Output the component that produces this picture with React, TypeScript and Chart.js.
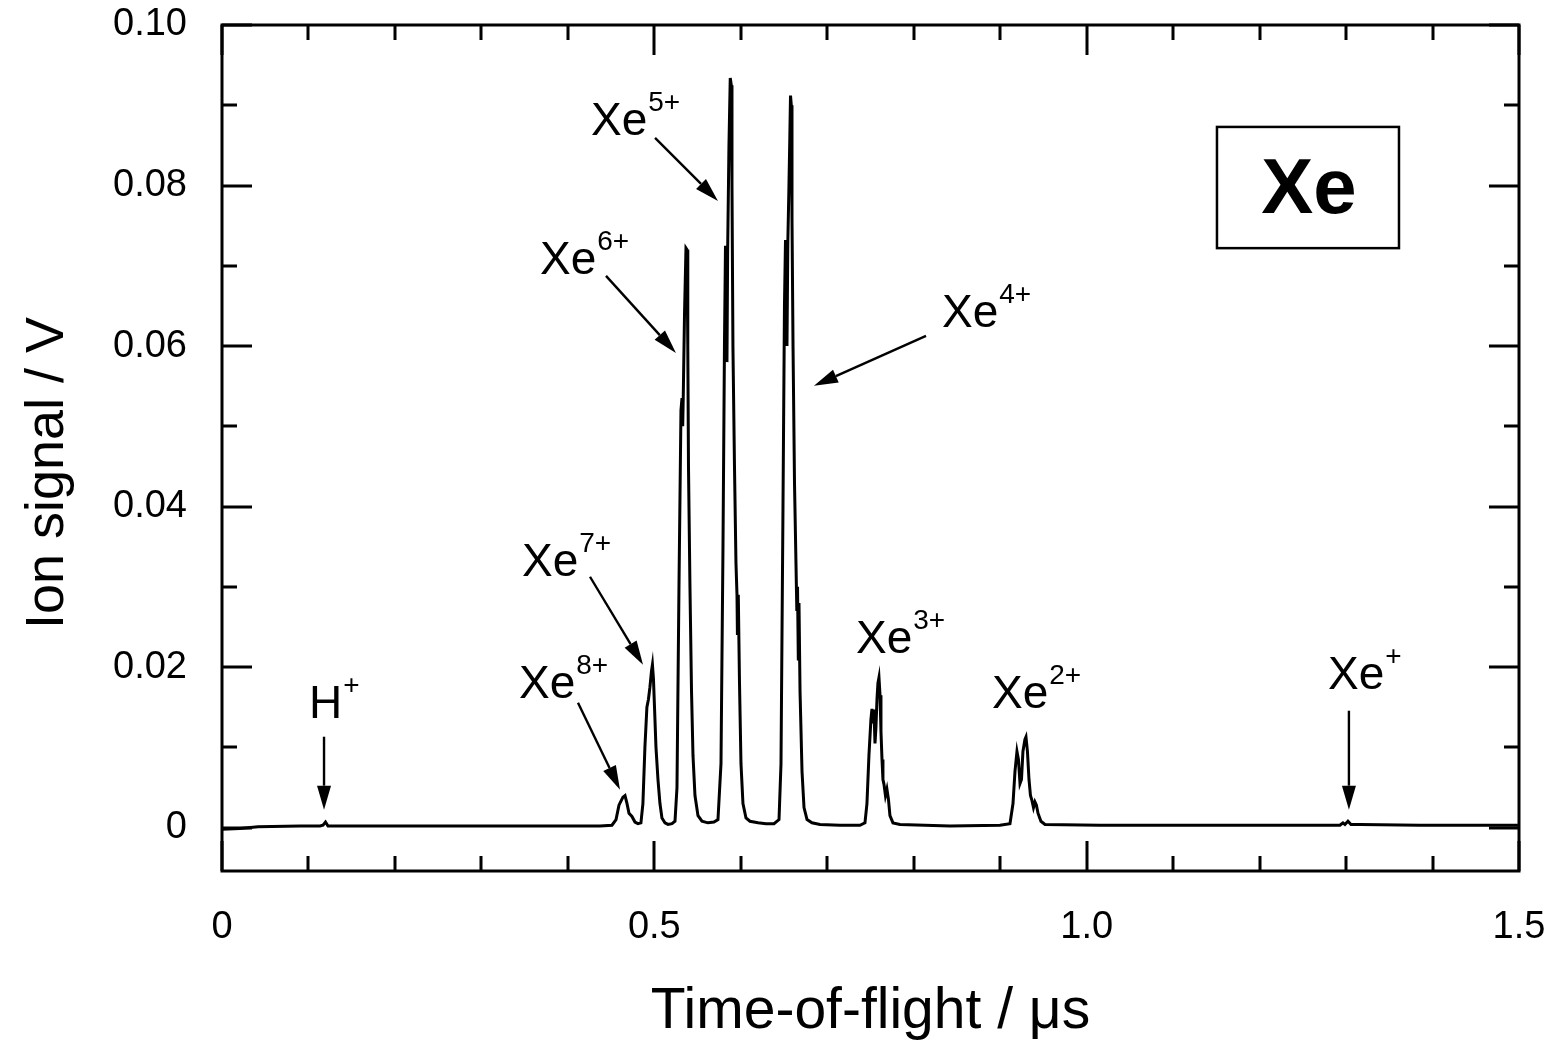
import React, { useEffect, useRef } from "react";
import { Chart, registerables } from "chart.js";

Chart.register(...registerables);

// Time-of-flight (µs) and ion signal (V)
const tofTimes = [
  0, 0.0208, 0.0416, 0.0902, 0.1133, 0.1168, 0.1197, 0.1226, 0.1365, 0.2059, 0.3215,
  0.4371, 0.4510, 0.4557, 0.4591, 0.4614, 0.4637, 0.4661, 0.4684, 0.4707, 0.4741, 0.4776,
  0.4810, 0.4845, 0.4868, 0.4891, 0.4914, 0.4932, 0.4949, 0.4967, 0.4978, 0.4990, 0.5002,
  0.5019, 0.5042, 0.5065, 0.5088, 0.5123, 0.5158, 0.5204, 0.5239, 0.5262, 0.5285, 0.5308,
  0.5320, 0.5328, 0.5335, 0.5349, 0.5366, 0.5378, 0.5387, 0.5395, 0.5412, 0.5430, 0.5447,
  0.5470, 0.5505, 0.5551, 0.5620, 0.5690, 0.5736, 0.5771, 0.5794, 0.5811, 0.5823, 0.5832,
  0.5840, 0.5848, 0.5863, 0.5878, 0.5890, 0.5898, 0.5909, 0.5927, 0.5944, 0.5956, 0.5961,
  0.5971, 0.5985, 0.6002, 0.6025, 0.6060, 0.6106, 0.6199, 0.6291, 0.6384, 0.6442, 0.6465,
  0.6488, 0.6505, 0.6517, 0.6526, 0.6534, 0.6544, 0.6557, 0.6567, 0.6575, 0.6584, 0.6592,
  0.6604, 0.6621, 0.6638, 0.6648, 0.6656, 0.6665, 0.6673, 0.6685, 0.6708, 0.6731, 0.6766,
  0.6823, 0.6916, 0.7147, 0.7378, 0.7436, 0.7459, 0.7482, 0.7505, 0.7517, 0.7528, 0.7540,
  0.7552, 0.7563, 0.7575, 0.7586, 0.7598, 0.7610, 0.7621, 0.7633, 0.7644, 0.7656, 0.7673,
  0.7690, 0.7708, 0.7725, 0.7760, 0.7841, 0.8419, 0.8997, 0.9113, 0.9148, 0.9171, 0.9194,
  0.9211, 0.9229, 0.9246, 0.9263, 0.9286, 0.9298, 0.9315, 0.9333, 0.9350, 0.9367, 0.9385,
  0.9402, 0.9419, 0.9437, 0.9471, 0.9518, 1.0154, 1.1310, 1.2467, 1.2929, 1.2964, 1.2987,
  1.3022, 1.3057, 1.3161, 1.3854, 1.4988,
];
const ionSignal = [
  -0.0002, -0.0001, 0.0001, 0.0002, 0.0002, 0.0003, 0.0007, 0.0002, 0.0002, 0.0002, 0.0002,
  0.0002, 0.0003, 0.0010, 0.0028, 0.0033, 0.0038, 0.0040, 0.0030, 0.0018, 0.0014, 0.0007,
  0.0005, 0.0006, 0.0030, 0.0100, 0.0150, 0.0160, 0.0175, 0.0195, 0.0203, 0.0185, 0.0150,
  0.0100, 0.0060, 0.0030, 0.0012, 0.0006, 0.0004, 0.0005, 0.0008, 0.0050, 0.0300, 0.0520,
  0.0535, 0.0500, 0.0540, 0.0640, 0.0722, 0.0720, 0.0600, 0.0450, 0.0300, 0.0170, 0.0090,
  0.0040, 0.0015, 0.0008, 0.0006, 0.0007, 0.0010, 0.0080, 0.0350, 0.0600, 0.0725, 0.0700,
  0.0580, 0.0720, 0.0850, 0.0934, 0.0925, 0.0800, 0.0600, 0.0450, 0.0330, 0.0290, 0.0240,
  0.0290, 0.0180, 0.0080, 0.0030, 0.0012, 0.0008, 0.0006, 0.0005, 0.0005, 0.0010, 0.0080,
  0.0400, 0.0650, 0.0732, 0.0700, 0.0600, 0.0730, 0.0800, 0.0860, 0.0912, 0.0900, 0.0760,
  0.0600, 0.0430, 0.0330, 0.0270, 0.0300, 0.0210, 0.0280, 0.0170, 0.0070, 0.0025, 0.0010,
  0.0006, 0.0004, 0.0003, 0.0003, 0.0006, 0.0030, 0.0090, 0.0135, 0.0148, 0.0130, 0.0147,
  0.0105, 0.0125, 0.0160, 0.0180, 0.0187, 0.0165, 0.0120, 0.0085, 0.0060, 0.0054, 0.0040,
  0.0048, 0.0035, 0.0015, 0.0006, 0.0004, 0.0002, 0.0003, 0.0005, 0.0030, 0.0070, 0.0095,
  0.0085, 0.0055, 0.0060, 0.0095, 0.0110, 0.0113, 0.0095, 0.0060, 0.0040, 0.0034, 0.0025,
  0.0032, 0.0028, 0.0018, 0.0008, 0.0004, 0.0003, 0.0003, 0.0003, 0.0003, 0.0006, 0.0004,
  0.0008, 0.0004, 0.0004, 0.0003, 0.0003,
];

const xTickValues = [0, 0.5, 1.0, 1.5];
const xTickLabels = ["0", "0.5", "1.0", "1.5"];
const yTickValues = [0, 0.02, 0.04, 0.06, 0.08, 0.1];
const yTickLabels = ["0", "0.02", "0.04", "0.06", "0.08", "0.10"];
const xMinorTicks = [0.1, 0.2, 0.3, 0.4, 0.6, 0.7, 0.8, 0.9, 1.1, 1.2, 1.3, 1.4];
const yMinorTicks = [0.01, 0.03, 0.05, 0.07, 0.09];

// Peak labels: base text, superscript, time and signal of the text's left baseline
const labelBases = ["H", "Xe", "Xe", "Xe", "Xe", "Xe", "Xe", "Xe", "Xe"];
const labelSups = ["+", "8+", "7+", "6+", "5+", "4+", "3+", "2+", "+"];
const labelTimes = [0.1006, 0.3435, 0.3469, 0.3678, 0.4267, 0.8327, 0.7332, 0.8905, 1.2791];
const labelSignals = [0.0136, 0.0161, 0.0314, 0.069, 0.0863, 0.0624, 0.0218, 0.0149, 0.0173];

// Arrows: tail (time, signal) -> tip (time, signal)
const arrowTailT = [0.118, 0.4117, 0.4256, 0.4441, 0.5008, 0.8142, 1.3033];
const arrowTailV = [0.01133, 0.01557, 0.03126, 0.06874, 0.08593, 0.06127, 0.01457];
const arrowTipT = [0.118, 0.4603, 0.4869, 0.525, 0.5736, 0.6846, 1.3033];
const arrowTipV = [0.00224, 0.00473, 0.0203, 0.05915, 0.07808, 0.05504, 0.00224];

const FONT = "'Liberation Sans', Arial, Helvetica, sans-serif";

export default function App() {
  const canvasRef = useRef<HTMLCanvasElement | null>(null);

  useEffect(() => {
    const canvas = canvasRef.current;
    if (!canvas) return;

    const decor = {
      id: "decor",
      afterDraw(chart: any) {
        const ctx = chart.ctx as CanvasRenderingContext2D;
        const { left, right, top, bottom } = chart.chartArea;
        const xs = chart.scales.x;
        const ys = chart.scales.y;
        ctx.save();
        ctx.strokeStyle = "#000";
        ctx.fillStyle = "#000";

        // ticks (inward, all four sides)
        ctx.lineWidth = 3;
        ctx.lineCap = "butt";
        const major = 30;
        const minor = 15;
        const drawX = (v: number, len: number) => {
          const px = Math.round(xs.getPixelForValue(v));
          ctx.beginPath();
          ctx.moveTo(px, bottom);
          ctx.lineTo(px, bottom - len);
          ctx.moveTo(px, top);
          ctx.lineTo(px, top + len);
          ctx.stroke();
        };
        const drawY = (v: number, len: number) => {
          const py = Math.round(ys.getPixelForValue(v));
          ctx.beginPath();
          ctx.moveTo(left, py);
          ctx.lineTo(left + len, py);
          ctx.moveTo(right, py);
          ctx.lineTo(right - len, py);
          ctx.stroke();
        };
        xTickValues.forEach((v) => drawX(v, major));
        xMinorTicks.forEach((v) => drawX(v, minor));
        yTickValues.forEach((v) => drawY(v, major));
        yMinorTicks.forEach((v) => drawY(v, minor));

        // frame
        ctx.lineWidth = 3;
        ctx.strokeRect(left, top, right - left, bottom - top);

        // arrows
        for (let i = 0; i < arrowTailT.length; i++) {
          const x0 = xs.getPixelForValue(arrowTailT[i]);
          const y0 = ys.getPixelForValue(arrowTailV[i]);
          const x1 = xs.getPixelForValue(arrowTipT[i]);
          const y1 = ys.getPixelForValue(arrowTipV[i]);
          const ang = Math.atan2(y1 - y0, x1 - x0);
          const hl = 24;
          const hw = 7;
          const bx = x1 - hl * Math.cos(ang);
          const by = y1 - hl * Math.sin(ang);
          ctx.lineWidth = 2.4;
          ctx.beginPath();
          ctx.moveTo(x0, y0);
          ctx.lineTo(bx, by);
          ctx.stroke();
          ctx.beginPath();
          ctx.moveTo(x1, y1);
          ctx.lineTo(bx + hw * Math.sin(ang), by - hw * Math.cos(ang));
          ctx.lineTo(bx - hw * Math.sin(ang), by + hw * Math.cos(ang));
          ctx.closePath();
          ctx.fill();
        }

        // peak labels
        ctx.textBaseline = "alphabetic";
        ctx.textAlign = "left";
        for (let i = 0; i < labelBases.length; i++) {
          const x = xs.getPixelForValue(labelTimes[i]);
          const y = ys.getPixelForValue(labelSignals[i]);
          ctx.font = `46px ${FONT}`;
          ctx.fillText(labelBases[i], x, y);
          const w = ctx.measureText(labelBases[i]).width;
          ctx.font = `28px ${FONT}`;
          ctx.fillText(labelSups[i], x + w + 1, y - 24);
        }

        // "Xe" box
        const bxL = xs.getPixelForValue(1.1507);
        const bxR = xs.getPixelForValue(1.3612);
        const byT = ys.getPixelForValue(0.0873);
        const byB = ys.getPixelForValue(0.0722);
        ctx.lineWidth = 2.5;
        ctx.strokeRect(bxL, byT, bxR - bxL, byB - byT);
        ctx.font = `bold 78px ${FONT}`;
        ctx.textAlign = "center";
        ctx.textBaseline = "middle";
        ctx.fillText("Xe", (bxL + bxR) / 2 + 1, (byT + byB) / 2 + 4);

        // axis titles
        ctx.font = `57px ${FONT}`;
        ctx.textAlign = "center";
        ctx.textBaseline = "alphabetic";
        ctx.fillText("Time-of-flight / \u03bcs", (left + right) / 2, 1028);
        ctx.font = `54px ${FONT}`;
        ctx.save();
        ctx.translate(63, 473);
        ctx.rotate(-Math.PI / 2);
        ctx.fillText("Ion signal / V", 0, 0);
        ctx.restore();

        ctx.restore();
      },
    };

    const chart = new Chart(canvas, {
      type: "line",
      data: {
        datasets: [
          {
            data: tofTimes.map((t, i) => ({ x: t, y: ionSignal[i] })),
            borderColor: "#000",
            borderWidth: 3,
            pointRadius: 0,
            tension: 0,
            fill: false,
          },
        ],
      },
      options: {
        animation: false,
        responsive: false,
        devicePixelRatio: 1,
        layout: { padding: { top: 25, right: 37, left: 0, bottom: 0 } },
        plugins: { legend: { display: false }, tooltip: { enabled: false } },
        scales: {
          x: {
            type: "linear",
            min: 0,
            max: 1.5,
            grid: { display: false, drawTicks: false },
            border: { display: false },
            afterFit: (s: any) => {
              s.height = 172;
              s.paddingLeft = 0;
              s.paddingRight = 0;
            },
            afterBuildTicks: (s: any) => {
              s.ticks = xTickValues.map((v) => ({ value: v }));
            },
            ticks: {
              padding: 34,
              color: "#000",
              font: { family: FONT, size: 38 },
              maxRotation: 0,
              callback: (v: any) => {
                const i = xTickValues.findIndex((t) => Math.abs(t - Number(v)) < 1e-9);
                return i >= 0 ? xTickLabels[i] : "";
              },
            },
          },
          y: {
            type: "linear",
            min: -0.0054,
            max: 0.1,
            grid: { display: false, drawTicks: false },
            border: { display: false },
            afterFit: (s: any) => {
              s.width = 222;
              s.paddingTop = 0;
              s.paddingBottom = 0;
            },
            afterBuildTicks: (s: any) => {
              s.ticks = yTickValues.map((v) => ({ value: v }));
            },
            ticks: {
              padding: 35,
              color: "#000",
              font: { family: FONT, size: 38 },
              callback: (v: any) => {
                const i = yTickValues.findIndex((t) => Math.abs(t - Number(v)) < 1e-9);
                return i >= 0 ? yTickLabels[i] : "";
              },
            },
          },
        },
      },
      plugins: [decor],
    } as any);

    return () => chart.destroy();
  }, []);

  return (
    <div style={{ position: "absolute", left: 0, top: 0, width: 1556, height: 1043, background: "#fff" }}>
      <canvas ref={canvasRef} width={1556} height={1043} />
    </div>
  );
}
